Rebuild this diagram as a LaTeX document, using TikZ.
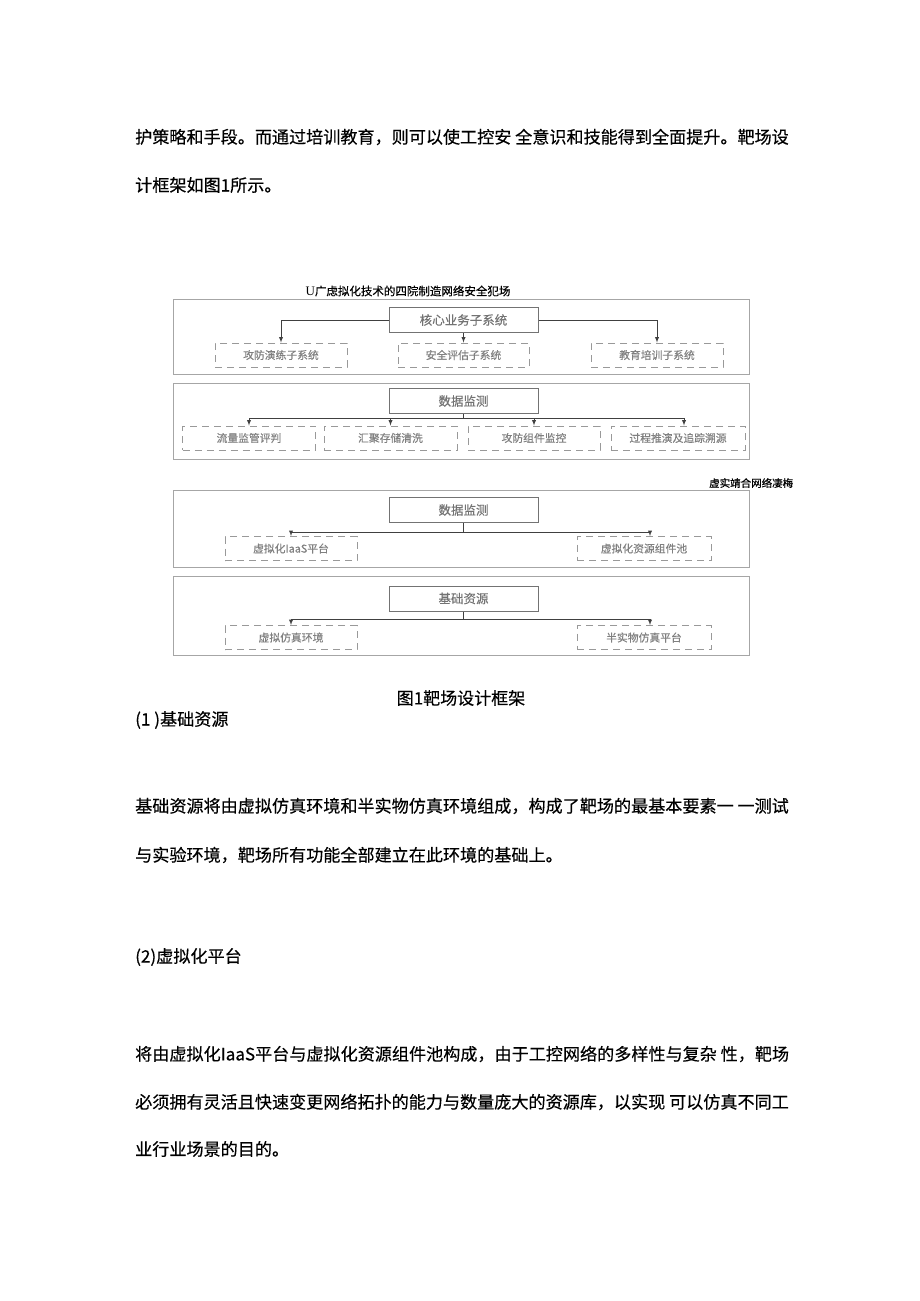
\documentclass[tikz,border=0pt]{standalone}
\usepackage{fontspec}
\setmainfont{Noto Sans CJK SC}[FakeBold=0.35]
\newfontfamily\serifU{Liberation Serif}
\usetikzlibrary{arrows}

\begin{document}
\begin{tikzpicture}[x=1pt, y=-1pt,
bodytext/.style={anchor=west, inner sep=0pt, font=\fontsize{17.1}{17.1}\selectfont},
panel/.style={draw=black!35, line width=0.8pt},
core/.style={draw=black!55, line width=1pt, minimum width=149pt, minimum height=25pt, inner sep=0pt, text=black!55, font=\fontsize{12.5}{12.5}\selectfont},
subsys/.style={draw=black!40, dash pattern=on 7pt off 5pt, line width=0.9pt, minimum height=24pt, inner sep=0pt, text=black!50, font=\fontsize{10.8}{10.8}\selectfont},
arrow/.style={draw=black!75, line width=0.9pt, -latex},
link/.style={draw=black!75, line width=0.8pt},
]
\useasboundingbox (0,0) rectangle (920,1301);

\node (line1) [bodytext] at (135,137) {护策略和手段。而通过培训教育，则可以使工控安 全意识和技能得到全面提升。靶场设};
\node (line2) [bodytext] at (135,185) {计框架如图1所示。};

\node (title) [inner sep=0pt, font=\fontsize{11.5}{11.5}\selectfont] at (408,291) {{\serifU\fontsize{13}{13}\selectfont U}广虑拟化技术的四院制造网络安全犯场};

\draw[panel] (173,299) rectangle (749,374);
\draw[panel] (173,383) rectangle (749,459);
\draw[panel] (173,490) rectangle (749,567);
\draw[panel] (173,576) rectangle (749,655);

\node (vlabel) [anchor=west, inner sep=0pt, font=\fontsize{10.5}{10.5}\selectfont] at (709,483) {虚实靖合网络凄梅};

\node (core1) [core] at (463.5,320) {核心业务子系统};
\node (sub11) [subsys, minimum width=132pt] at (281,355) {攻防演练子系统};
\node (sub12) [subsys, minimum width=131pt] at (463.5,355) {安全评估子系统};
\node (sub13) [subsys, minimum width=132pt] at (657,355) {教育培训子系统};

\node (core2) [core] at (463.5,401) {数据监测};
\node (sub21) [subsys, minimum width=133pt] at (249,438) {流量监管评判};
\node (sub22) [subsys, minimum width=133pt] at (390.5,438) {汇聚存储清洗};
\node (sub23) [subsys, minimum width=132pt] at (534,438) {攻防组件监控};
\node (sub24) [subsys, minimum width=134pt] at (678,438) {过程推演及追踪溯源};

\node (core3) [core] at (463.5,510) {数据监测};
\node (sub31) [subsys, minimum width=132pt] at (291,548.5) {虚拟化IaaS平台};
\node (sub32) [subsys, minimum width=134pt] at (644,548.5) {虚拟化资源组件池};

\node (core4) [core] at (463.5,598.5) {基础资源};
\node (sub41) [subsys, minimum width=132pt] at (291,637.5) {虚拟仿真环境};
\node (sub42) [subsys, minimum width=134pt] at (644,637.5) {半实物仿真平台};

\draw[arrow] (core1.west) -| (sub11.north);
\draw[arrow] (core1.east) -| (sub13.north);
\draw[arrow] (core1.south) -- (sub12.north);

\coordinate (bus2) at (463.5,418);
\draw[link] (core2.south) -- (bus2);
\draw[link] (bus2 -| sub21.north) -- ([xshift=6pt]bus2 -| sub24.north);
\foreach \n in {sub21,sub22,sub23}
  \draw[arrow] (bus2 -| \n.north) -- (\n.north);
\draw[arrow] ([xshift=6pt]bus2 -| sub24.north) -- ([xshift=6pt]sub24.north);

\coordinate (bus3) at (463.5,532);
\draw[link] (core3.south) -- (bus3);
\draw[link] (bus3 -| sub31.north) -- ([xshift=6pt]bus3 -| sub32.north);
\draw[arrow] (bus3 -| sub31.north) -- (sub31.north);
\draw[arrow] ([xshift=6pt]bus3 -| sub32.north) -- ([xshift=6pt]sub32.north);

\coordinate (bus4) at (463.5,619);
\draw[link] (core4.south) -- (bus4);
\draw[link] (bus4 -| sub41.north) -- ([xshift=6pt]bus4 -| sub42.north);
\draw[arrow] (bus4 -| sub41.north) -- (sub41.north);
\draw[arrow] ([xshift=6pt]bus4 -| sub42.north) -- ([xshift=6pt]sub42.north);

\node (caption) [inner sep=0pt, font=\fontsize{17}{17}\selectfont] at (461,698) {图1靶场设计框架};
\node (head1) [bodytext] at (135,720) {(1 )基础资源};
\node (para1a) [bodytext] at (135,806) {基础资源将由虚拟仿真环境和半实物仿真环境组成，构成了靶场的最基本要素一 一测试};
\node (para1b) [bodytext] at (135,855) {与实验环境，靶场所有功能全部建立在此环境的基础上。};
\node (head2) [bodytext] at (135,957) {(2)虚拟化平台};
\node (para2a) [bodytext] at (135,1054) {将由虚拟化IaaS平台与虚拟化资源组件池构成，由于工控网络的多样性与复杂 性，靶场};
\node (para2b) [bodytext] at (135,1102) {必须拥有灵活且快速变更网络拓扑的能力与数量庞大的资源库，以实现 可以仿真不同工};
\node (para2c) [bodytext] at (135,1149) {业行业场景的目的。};
\end{tikzpicture}
\end{document}
